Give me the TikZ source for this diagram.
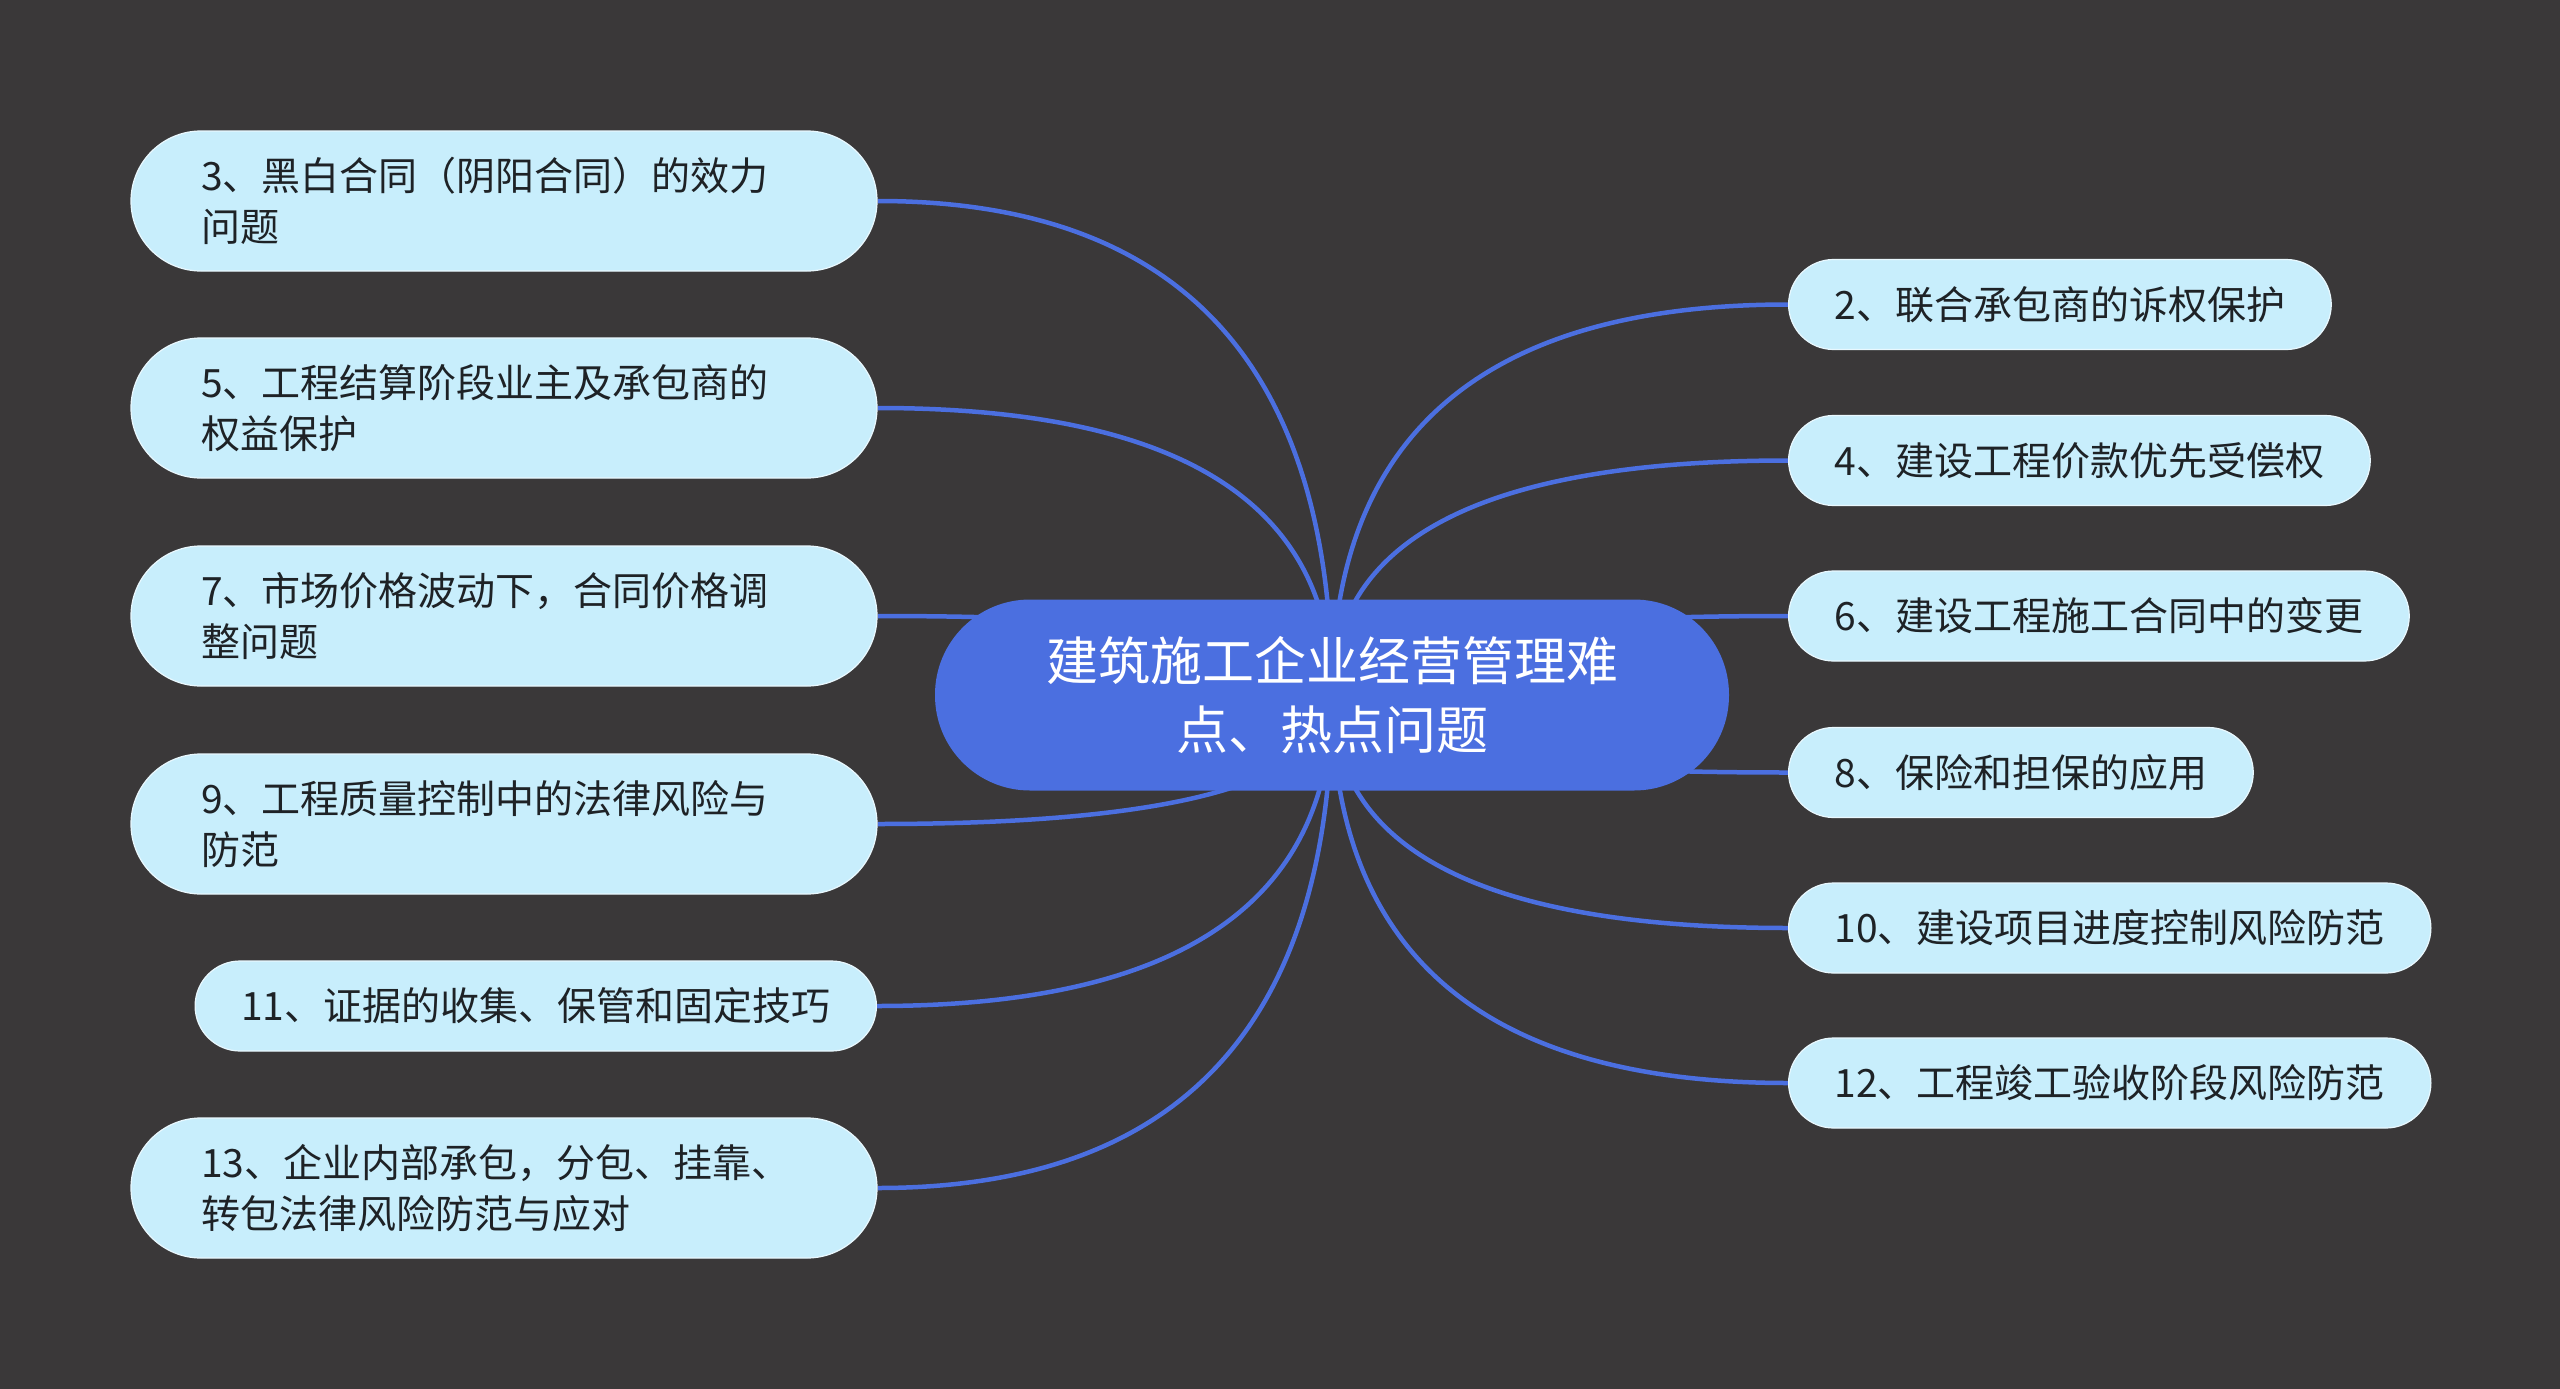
\documentclass[tikz,border=0pt]{standalone}
\usepackage{fontspec}
\newfontfamily\cjk{Noto Sans CJK SC}
\usetikzlibrary{calc}
\definecolor{bgc}{HTML}{3A3839}
\definecolor{hub}{HTML}{4B6FE0}
\definecolor{leafc}{HTML}{C8EEFC}
\definecolor{ink}{HTML}{1E2226}
\pgfdeclarelayer{bglayer}
\pgfdeclarelayer{edgelayer}
\pgfsetlayers{bglayer,edgelayer,main}
\tikzset{
 hubbox/.style={fill=hub, rounded corners=95pt, minimum width=794pt, minimum height=191pt, text=white, align=center, font=\cjk\fontsize{52pt}{69pt}\selectfont, inner sep=0pt},
 leafbase/.style={fill=leafc, draw=white!60!leafc, line width=1.2pt, text=ink, font=\cjk\fontsize{39pt}{51pt}\selectfont, inner ysep=0pt},
 twoline/.style={leafbase, rounded corners=70pt, minimum height=140pt, text width=606pt, inner xsep=70pt, align=left},
 oneline/.style={leafbase, rounded corners=45pt, minimum height=90pt, inner xsep=46pt},
 conn/.style={draw=hub, line width=4.5pt},
 qcurve/.style={to path={.. controls ($(\tikztostart)!2/3!(\tikztostart|-\tikztotarget)$) and ($(\tikztotarget)!2/3!(\tikztostart|-\tikztotarget)$) .. (\tikztotarget)}}
}
\begin{document}
\begin{tikzpicture}[x=1pt,y=-1pt]
\useasboundingbox (0,0) rectangle (2560,1389);
\begin{pgfonlayer}{bglayer}
\fill[bgc] (0,0) rectangle (2560,1389);
\end{pgfonlayer}

\node[hubbox] (hub) at (1332,695) {建筑施工企业经营管理难\\点、热点问题};
\coordinate (O) at (1332,695);

% left
\node[twoline] (l1) at (504,201) {3、黑白合同（阴阳合同）的效力\\问题};
\node[twoline] (l2) at (504,408) {5、工程结算阶段业主及承包商的\\权益保护};
\node[twoline] (l3) at (504,616) {7、市场价格波动下，合同价格调\\整问题};
\node[twoline] (l4) at (504,824) {9、工程质量控制中的法律风险与\\防范};
\node[oneline, anchor=east] (l5) at (877,1006) {11、证据的收集、保管和固定技巧};
\node[twoline] (l6) at (504,1188) {13、企业内部承包，分包、挂靠、\\转包法律风险防范与应对};

% right
\node[oneline, anchor=west] (r1) at (1788,304.5) {2、联合承包商的诉权保护};
\node[oneline, anchor=west] (r2) at (1788,460.5) {4、建设工程价款优先受偿权};
\node[oneline, anchor=west] (r3) at (1788,616) {6、建设工程施工合同中的变更};
\node[oneline, anchor=west] (r4) at (1788,772.5) {8、保险和担保的应用};
\node[oneline, anchor=west] (r5) at (1788,928) {10、建设项目进度控制风险防范};
\node[oneline, anchor=west] (r6) at (1788,1083) {12、工程竣工验收阶段风险防范};

\begin{pgfonlayer}{edgelayer}
\foreach \n in {l1,l2,l3,l4,l5,l6}{
  \draw[conn] (O) to[qcurve] (\n.east);
}
\foreach \n in {r1,r2,r3,r4,r5,r6}{
  \draw[conn] (O) to[qcurve] (\n.west);
}
\end{pgfonlayer}
\end{tikzpicture}
\end{document}
